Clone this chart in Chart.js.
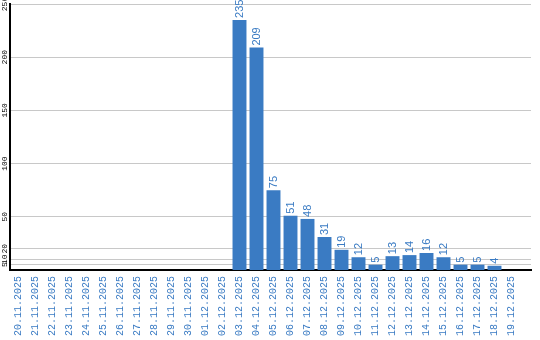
<!DOCTYPE html>
<html>
<head>
<meta charset="utf-8">
<script src="https://cdn.jsdelivr.net/npm/chart.js@4/dist/chart.umd.min.js"></script>
<style>
html,body{margin:0;padding:0;background:#fff;}
#wrap{width:540px;height:340px;position:relative;}
</style>
</head>
<body>
<div id="wrap"><canvas id="c" width="540" height="340"></canvas></div>
<script>
const dates = ["20.11.2025","21.11.2025","22.11.2025","23.11.2025","24.11.2025","25.11.2025","26.11.2025","27.11.2025","28.11.2025","29.11.2025","30.11.2025","01.12.2025","02.12.2025","03.12.2025","04.12.2025","05.12.2025","06.12.2025","07.12.2025","08.12.2025","09.12.2025","10.12.2025","11.12.2025","12.12.2025","13.12.2025","14.12.2025","15.12.2025","16.12.2025","17.12.2025","18.12.2025","19.12.2025"];
const counts = [0,0,0,0,0,0,0,0,0,0,0,0,0,235,209,75,51,48,31,19,12,5,13,14,16,12,5,5,4,0];
const yTicks = [5,10,20,50,100,150,200,250];

const BLUE = '#3a7bc3';

const valueLabels = {
  id: 'valueLabels',
  afterDatasetsDraw(chart) {
    const ctx = chart.ctx;
    const meta = chart.getDatasetMeta(0);
    ctx.save();
    ctx.font = '11px "Liberation Sans", Arial, sans-serif';
    ctx.fillStyle = BLUE;
    ctx.textAlign = 'left';
    ctx.textBaseline = 'middle';
    meta.data.forEach((el, i) => {
      const v = counts[i];
      if (!v) return;
      ctx.save();
      ctx.translate(el.x, el.y - 2);
      ctx.rotate(-Math.PI / 2);
      ctx.fillText(String(v), 0, 0);
      ctx.restore();
    });
    ctx.restore();
  }
};

new Chart(document.getElementById('c'), {
  type: 'bar',
  data: {
    labels: dates,
    datasets: [{
      data: counts,
      backgroundColor: BLUE,
      borderWidth: 0,
      categoryPercentage: 1,
      barPercentage: 0.82
    }]
  },
  options: {
    responsive: false,
    animation: false,
    layout: { padding: { top: 4, right: 9, left: 0, bottom: 0 } },
    plugins: { legend: { display: false }, tooltip: { enabled: false } },
    scales: {
      x: {
        grid: { display: false, drawTicks: false },
        border: { display: true, color: '#000', width: 2 },
        afterFit(s) { s.height = 70; },
        afterBuildTicks(s) { s._valueRange = 30 + 11 / 17; },
        ticks: {
          autoSkip: false,
          minRotation: 90,
          maxRotation: 90,
          padding: 6,
          color: BLUE,
          font: { family: '"Liberation Mono", "DejaVu Sans Mono", monospace', size: 10 },
          callback: (v, i) => dates[i]
        }
      },
      y: {
        min: 0,
        max: 250,
        afterBuildTicks(s) { s.ticks = yTicks.map(v => ({ value: v })); },
        afterFit(s) { s.width = 10; },
        grid: { color: '#c8c8c8', lineWidth: 1, drawTicks: false },
        border: { display: true, color: '#000', width: 2 },
        ticks: {
          autoSkip: false,
          minRotation: 90,
          maxRotation: 90,
          crossAlign: 'center',
          padding: -2,
          color: '#000',
          font: { family: '"Liberation Mono", "DejaVu Sans Mono", monospace', size: 8 }
        }
      }
    }
  },
  plugins: [valueLabels]
});
</script>
</body>
</html>
